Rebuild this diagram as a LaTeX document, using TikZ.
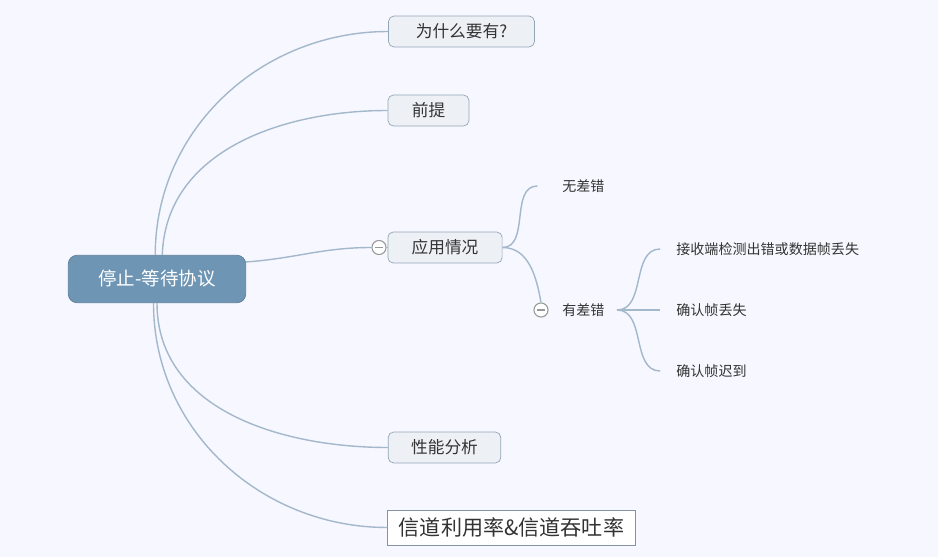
\documentclass[tikz,border=0pt]{standalone}
\usepackage{fontspec}
\setmainfont{Noto Sans CJK SC}
\usetikzlibrary{calc}
\definecolor{lnc}{HTML}{A3B8CB}
\definecolor{rootc}{HTML}{6E95B4}
\definecolor{boxc}{HTML}{EDF1F6}
\definecolor{txtc}{HTML}{333333}
\tikzset{
  topic/.style={draw=rootc!85!black,fill=rootc,rounded corners=5pt,text=white,minimum width=101pt,minimum height=27pt,font=\fontsize{10.5}{12}\selectfont},
  subt/.style={draw=lnc!90!black,fill=boxc,rounded corners=3pt,text=txtc,minimum height=17.6pt,inner sep=0pt,font=\fontsize{9.5}{11}\selectfont},
  note/.style={draw=lnc!80!black,fill=white,text=txtc,minimum width=141pt,minimum height=20pt,inner sep=0pt,font=\fontsize{12}{14}\selectfont},
  leaf/.style={anchor=west,text=txtc,inner sep=0pt,font=\fontsize{8}{10}\selectfont},
  fold/.style={circle,draw=gray!80,fill=white,minimum size=8pt,inner sep=0pt,line width=0.6pt,
    path picture={\draw[gray!80,line width=0.6pt] ([xshift=1.6pt]path picture bounding box.west) -- ([xshift=-1.6pt]path picture bounding box.east);}},
  link/.style={draw=lnc,line width=0.8pt}
}
\begin{document}
\begin{tikzpicture}[x=0.02cm,y=-0.02cm]
\fill[white!97!blue] (0,0) rectangle (938,557);
\useasboundingbox (0,0) rectangle (938,557);
% main topic and first level
\node[topic] (root) at (157,279) {停止-等待协议};
\node[subt,minimum width=83pt] (why) at (461.5,31.5) {为什么要有?};
\node[subt,minimum width=46pt] (prem) at (428.5,110.5) {前提};
\node[subt,minimum width=65pt] (app) at (445,247.5) {应用情况};
\node[subt,minimum width=64pt] (perf) at (444.5,447.5) {性能分析};
\node[note] (chan) at (511.5,527.5) {信道利用率\&信道吞吐率};
\node[fold] (f1) at (379,247.5) {};
% second and third level
\node[leaf] (ok) at (562,186) {无差错};
\node[fold] (f2) at (541,310) {};
\node[leaf] (bad) at (562,310) {有差错};
\coordinate (fork) at (617,310);
\foreach \i/\y/\t in {1/249/接收端检测出错或数据帧丢失,2/310/确认帧丢失,3/371/确认帧迟到}{\node[leaf] (c\i) at (676,\y) {\t};}
% connectors
\draw[link] ([xshift=-1pt]root.north) to[out=90,in=180] (why.west);
\draw[link] ([xshift=3pt]root.north) to[out=88,in=180] (prem.west);
\draw[link] ([yshift=-4pt]root.north east) to[out=4,in=180] (f1.west);
\draw[link] (f1.east) -- (app.west);
\draw[link] (root.south) to[out=-90,in=180] (perf.west);
\draw[link] ([xshift=-2pt]root.south) to[out=-90,in=180] (chan.west);
\draw[link] (app.east) to[out=0,in=180] ([xshift=-14pt]ok.west);
\draw[link] (app.east) to[out=0,in=100] (f2.north);
\foreach \i in {1,2,3}{\draw[link] (fork) to[out=0,in=180] ([xshift=-9pt]c\i.west);}
\end{tikzpicture}
\end{document}
